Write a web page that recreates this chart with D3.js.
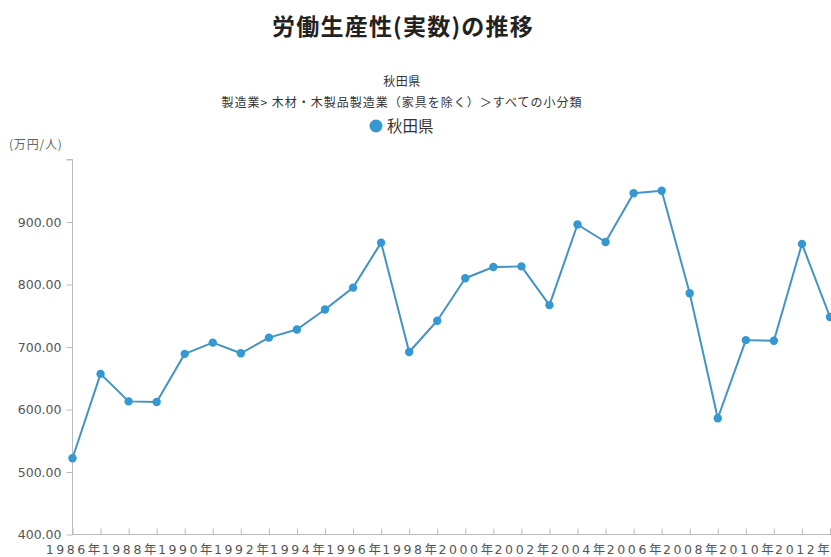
<!DOCTYPE html>
<html>
<head>
<meta charset="utf-8">
<script src="https://cdn.jsdelivr.net/npm/d3@7"></script>
<style>
  html, body { margin: 0; padding: 0; background: #fff; overflow: hidden; }
  svg { display: block; }
</style>
</head>
<body>
<svg id="chart" width="831" height="557"></svg>
<script>
// 労働生産性(実数) 秋田県 木材・木製品製造業
const years = [1986, 1987, 1988, 1989, 1990, 1991, 1992, 1993, 1994, 1995,
               1996, 1997, 1998, 1999, 2000, 2001, 2002, 2003, 2004, 2005,
               2006, 2007, 2008, 2009, 2010, 2011, 2012, 2013];
const productivity = [522, 657, 613, 612, 689, 707, 690, 715, 728, 760,
                      795, 867, 692, 742, 810, 828, 829, 767, 896, 868,
                      946, 950, 786, 586, 711, 710, 865, 748];
const yTicks = [400, 500, 600, 700, 800, 900, 1000];
const labelYears = years.filter(y => y % 2 === 0);

const titleText = "労働生産性(実数)の推移";
const subtitle1 = "秋田県";
const subtitle2 = "製造業> 木材・木製品製造業（家具を除く）＞すべての小分類";
const seriesName = "秋田県";
const unitText = "(万円/人)";

const jp = "'Noto Sans CJK JP', 'Noto Sans', sans-serif";
const num = "'DejaVu Sans', 'Noto Sans CJK JP', sans-serif";
const blue = "#3598d2";
const lineBlue = "#4393c4";

const svg = d3.select("#chart");

const x = d3.scaleLinear().domain([1986, 2013]).range([72.5, 830]);
const y = d3.scaleLinear().domain([400, 1000]).range([534.5, 159.5]);

// title block
svg.append("text").attr("x", 403).attr("y", 35)
  .attr("text-anchor", "middle").attr("font-family", jp)
  .attr("font-size", 23).attr("font-weight", "bold").attr("fill", "#222")
  .attr("letter-spacing", "1.2px")
  .text(titleText);
svg.append("text").attr("x", 402).attr("y", 86)
  .attr("text-anchor", "middle").attr("font-family", jp)
  .attr("font-size", 12).attr("fill", "#333").attr("letter-spacing", "0.5px").text(subtitle1);
svg.append("text").attr("x", 402).attr("y", 107)
  .attr("text-anchor", "middle").attr("font-family", jp)
  .attr("font-size", 12).attr("fill", "#333").attr("letter-spacing", "1px").text(subtitle2);

// legend
svg.append("circle").attr("cx", 376).attr("cy", 126).attr("r", 6.5).attr("fill", blue);
svg.append("text").attr("x", 387).attr("y", 132)
  .attr("font-family", jp).attr("font-size", 15.5).attr("fill", "#333").text(seriesName);

// unit label
svg.append("text").attr("x", 9).attr("y", 149)
  .attr("font-family", jp).attr("font-size", 12).attr("fill", "#666")
  .attr("letter-spacing", "0.8px").text(unitText);

// y axis
const yAxis = d3.axisLeft(y).tickValues(yTicks).tickSize(6).tickPadding(5)
  .tickFormat(d => d === 1000 ? "" : d3.format(".2f")(d));
const gy = svg.append("g").attr("transform", "translate(72.5,0)").call(yAxis);
gy.select(".domain").attr("stroke", "#bbb").attr("d", `M-6,${y(1000)}H0V${y(400)}`);
gy.selectAll(".tick line").attr("stroke", "#bbb");
gy.selectAll(".tick text").attr("font-family", num).attr("font-size", 12.5).attr("fill", "#555");

// x axis
const xAxis = d3.axisBottom(x).tickValues(years).tickSize(-6).tickPadding(0)
  .tickFormat(d => labelYears.includes(d) ? d + "年" : "");
const gx = svg.append("g").attr("transform", `translate(0,${y(400)})`).call(xAxis);
gx.select(".domain").attr("stroke", "#bbb").attr("d", `M${x(1986)},0H840`);
gx.selectAll(".tick line").attr("stroke", "#bbb");
gx.selectAll(".tick text").attr("font-family", num).attr("font-size", 12.5)
  .attr("fill", "#555").attr("letter-spacing", "2.6px").attr("dy", "1.55em")
  .attr("dx", "1.3px");

// line and markers
const pts = years.map((yr, i) => [yr, productivity[i]]);
svg.append("path").datum(pts)
  .attr("fill", "none").attr("stroke", lineBlue).attr("stroke-width", 2)
  .attr("stroke-linejoin", "round")
  .attr("d", d3.line().x(d => x(d[0])).y(d => y(d[1])));
svg.append("g").selectAll("circle").data(pts).join("circle")
  .attr("cx", d => x(d[0])).attr("cy", d => y(d[1])).attr("r", 4.2)
  .attr("fill", blue);
</script>
</body>
</html>
